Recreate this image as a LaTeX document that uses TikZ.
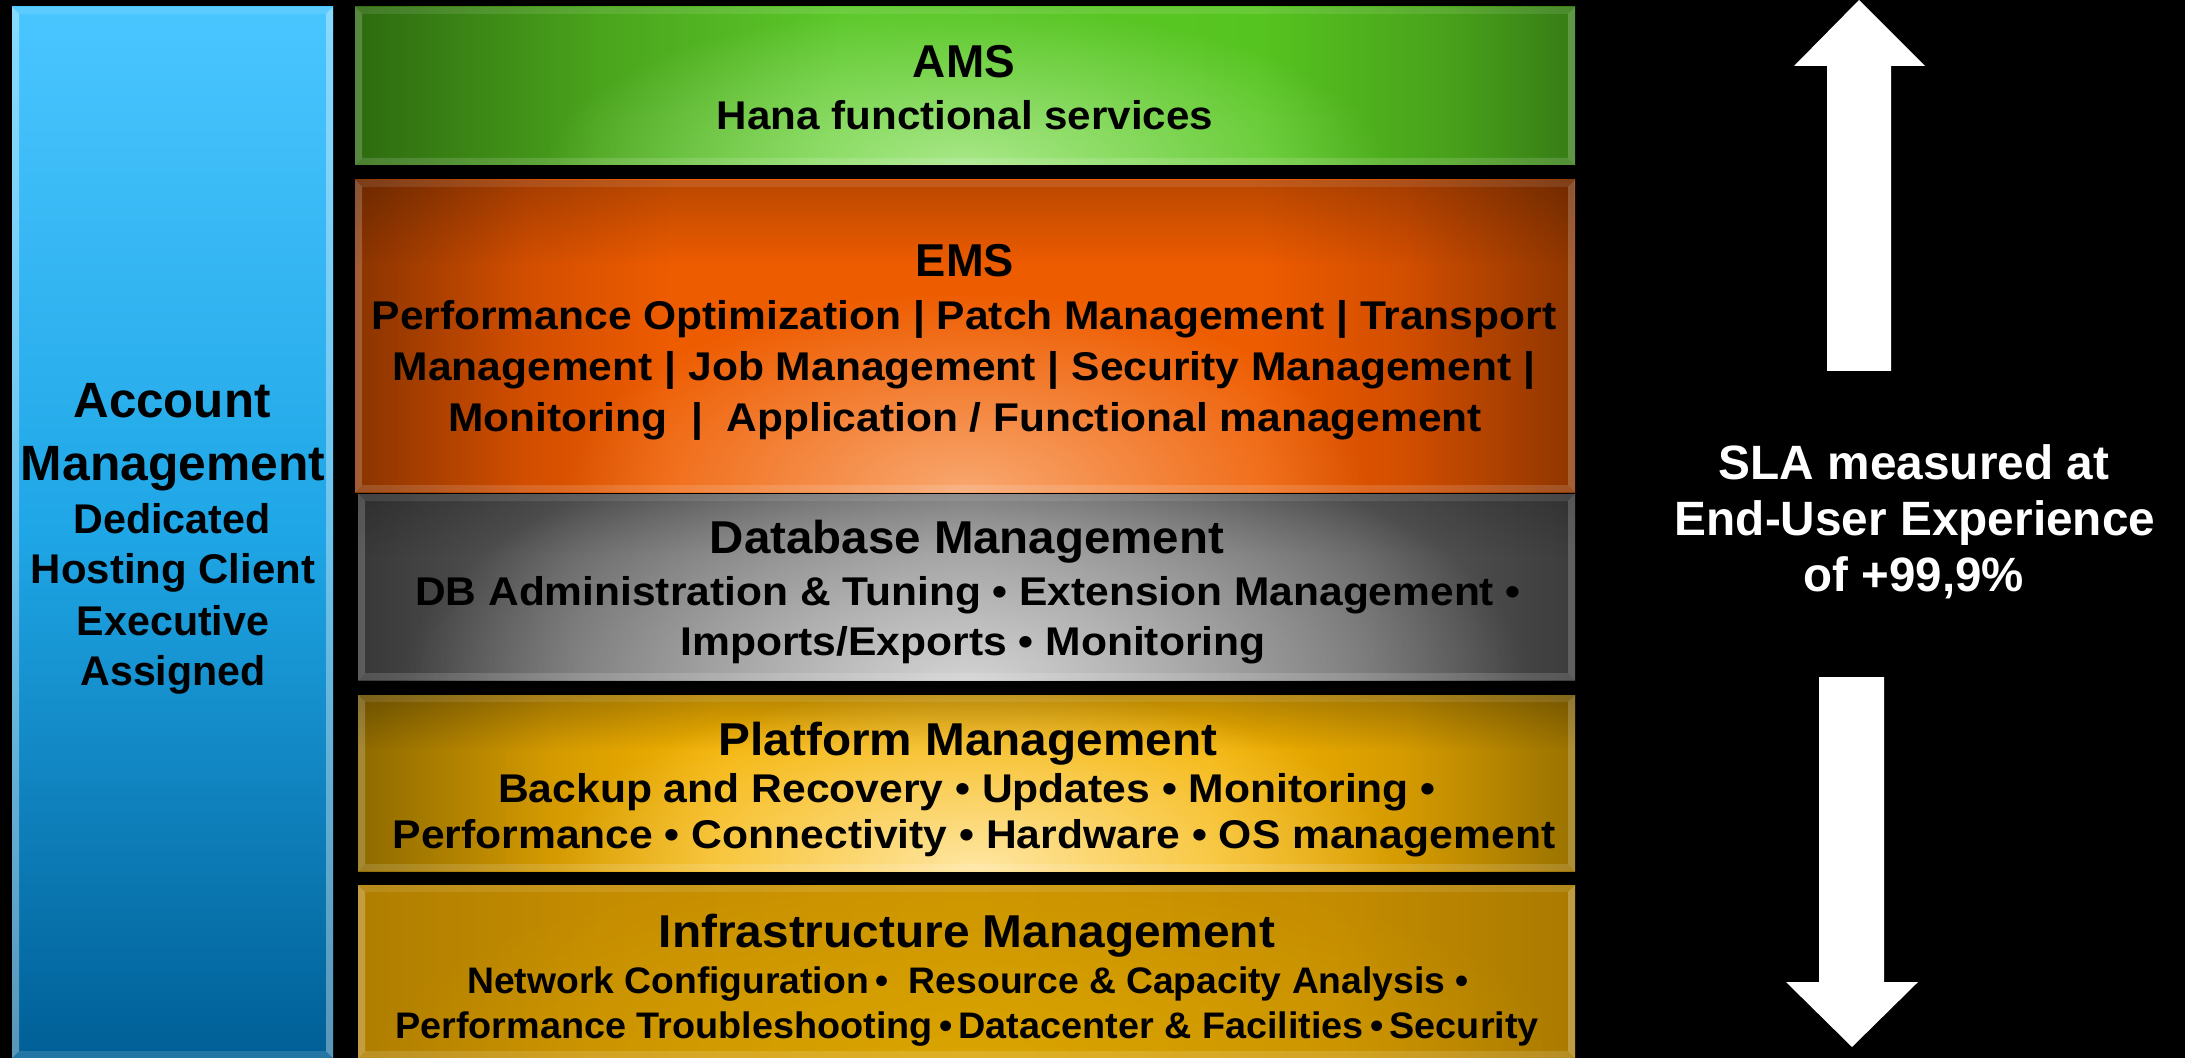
\documentclass[tikz,border=0pt]{standalone}
\usepackage{fontspec}
\setmainfont{Liberation Sans}
\usepackage{graphicx}
\usetikzlibrary{calc,fadings,fit}

\definecolor{gG}{HTML}{A8E888}
\definecolor{oG}{HTML}{F9A870}
\definecolor{yG}{HTML}{D2D2D2}
\definecolor{pG}{HTML}{FFE6A0}
\definecolor{iG}{HTML}{DAA400}
\definecolor{bT}{HTML}{4AC6FF}\definecolor{bM}{HTML}{1FA6E6}\definecolor{bB}{HTML}{005F96}

\pgfdeclarehorizontalshading{greenH}{100bp}{color(0bp)=(rgb,255:red,46;green,106;blue,16); color(25bp)=(rgb,255:red,46;green,106;blue,16); color(35bp)=(rgb,255:red,74;green,164;blue,28); color(45bp)=(rgb,255:red,92;green,200;blue,42); color(62bp)=(rgb,255:red,86;green,196;blue,32); color(70bp)=(rgb,255:red,72;green,160;blue,26); color(75bp)=(rgb,255:red,54;green,124;blue,22); color(100bp)=(rgb,255:red,54;green,124;blue,22)}
\pgfdeclarehorizontalshading{orangeH}{100bp}{color(0bp)=(rgb,255:red,138;green,52;blue,0); color(25bp)=(rgb,255:red,138;green,52;blue,0); color(32bp)=(rgb,255:red,210;green,78;blue,0); color(38bp)=(rgb,255:red,238;green,92;blue,0); color(62bp)=(rgb,255:red,238;green,92;blue,0); color(68bp)=(rgb,255:red,210;green,78;blue,0); color(75bp)=(rgb,255:red,142;green,54;blue,0); color(100bp)=(rgb,255:red,142;green,54;blue,0)}
\pgfdeclarehorizontalshading{grayH}{100bp}{color(0bp)=(rgb,255:red,56;green,56;blue,56); color(25bp)=(rgb,255:red,56;green,56;blue,56); color(34bp)=(rgb,255:red,92;green,92;blue,92); color(50bp)=(rgb,255:red,124;green,124;blue,124); color(66bp)=(rgb,255:red,92;green,92;blue,92); color(75bp)=(rgb,255:red,60;green,60;blue,60); color(100bp)=(rgb,255:red,60;green,60;blue,60)}
\pgfdeclarehorizontalshading{platH}{100bp}{color(0bp)=(rgb,255:red,142;green,106;blue,0); color(25bp)=(rgb,255:red,142;green,106;blue,0); color(33bp)=(rgb,255:red,212;green,154;blue,0); color(40bp)=(rgb,255:red,244;green,178;blue,0); color(60bp)=(rgb,255:red,244;green,178;blue,0); color(68bp)=(rgb,255:red,212;green,154;blue,0); color(75bp)=(rgb,255:red,154;green,114;blue,0); color(100bp)=(rgb,255:red,154;green,114;blue,0)}
\pgfdeclarehorizontalshading{infraH}{100bp}{color(0bp)=(rgb,255:red,176;green,126;blue,0); color(25bp)=(rgb,255:red,176;green,126;blue,0); color(35bp)=(rgb,255:red,196;green,140;blue,0); color(50bp)=(rgb,255:red,204;green,148;blue,0); color(65bp)=(rgb,255:red,196;green,140;blue,0); color(75bp)=(rgb,255:red,170;green,122;blue,0); color(100bp)=(rgb,255:red,170;green,122;blue,0)}

\tikzfading[name=glowfade, inner color=transparent!0, outer color=transparent!100]
\tikzfading[name=topfade, top color=transparent!0, bottom color=transparent!100]

\newlength\fitlen
\newcommand\fitw[2]{\settowidth\fitlen{#2}\pgfmathsetmacro\fitr{#1*0.284528/\fitlen}\scalebox{\fitr}[1]{#2}}
\newcommand\fs[1]{\fontsize{#1}{#1}\selectfont\bfseries}

\newcommand\layerbase[6]{%
  \node[fit={(#2,#3) (#4,#5)}, inner sep=0pt, outer sep=0pt] (#1) {};
  \shade[shading=#6] (#1.north west) rectangle (#1.south east);
}
\newcommand\bevel[2]{%
  \fill[white, opacity=#2] (#1.north west) -- ($(#1.north west)+(7,7)$) -- ($(#1.south west)+(7,-7)$) -- (#1.south west) -- cycle;
  \fill[white, opacity=#2] (#1.north east) -- ($(#1.north east)+(-7,7)$) -- ($(#1.south east)+(-7,-7)$) -- (#1.south east) -- cycle;
  \fill[white, opacity=0.10] (#1.north west) -- (#1.north east) -- ($(#1.north east)+(-7,7)$) -- ($(#1.north west)+(7,7)$) -- cycle;
  \fill[white, opacity=0.14] (#1.south west) -- (#1.south east) -- ($(#1.south east)+(-7,-7)$) -- ($(#1.south west)+(7,-7)$) -- cycle;
}

\tikzset{
  txt/.style={anchor=base, inner sep=0pt, outer sep=0pt, text=black},
  wtxt/.style={anchor=base, inner sep=0pt, outer sep=0pt, text=white},
  arrowshape/.style={fill=white, draw=none}
}

\begin{document}
\begin{tikzpicture}[x=0.01cm, y=-0.01cm]
\fill[black] (0,0) rectangle (2185,1058);
\useasboundingbox (0,0) rectangle (2185,1058);

% ---------- Account management bar ----------
\node[fit={(12,7) (333,1058)}, inner sep=0pt, outer sep=0pt] (acc) {};
\fill[top color=bT, bottom color=bB, middle color=bM] (acc.north west) rectangle (acc.south east);
\bevel{acc}{0.35}

% ---------- AMS ----------
\layerbase{ams}{355}{7}{1575}{165}{greenH}
\begin{scope}
  \clip (ams.north west) rectangle (ams.south east);
  \fill[gG, path fading=glowfade] (965,165) ellipse [x radius=4.2cm, y radius=1.6cm];
\end{scope}
\bevel{ams}{0.2}

% ---------- EMS ----------
\layerbase{ems}{355}{180}{1575}{492}{orangeH}
\begin{scope}
  \clip (ems.north west) rectangle (ems.south east);
  \fill[black, opacity=0.22, path fading=topfade] (ems.north west) rectangle (1575,265);
  \fill[oG, path fading=glowfade] (965,492) ellipse [x radius=4cm, y radius=2cm];
\end{scope}
\bevel{ems}{0.2}

% ---------- Database ----------
\layerbase{db}{358}{494}{1575}{680}{grayH}
\begin{scope}
  \clip (db.north west) rectangle (db.south east);
  \fill[black, opacity=0.18, path fading=topfade] (db.north west) rectangle (1575,555);
  \fill[yG, path fading=glowfade] (965,680) ellipse [x radius=5.6cm, y radius=2.5cm];
\end{scope}
\bevel{db}{0.18}

% ---------- Platform ----------
\layerbase{plat}{358}{695}{1575}{871}{platH}
\begin{scope}
  \clip (plat.north west) rectangle (plat.south east);
  \fill[black, opacity=0.25, path fading=topfade] (plat.north west) rectangle (1575,750);
  \fill[pG, path fading=glowfade] (975,865) ellipse [x radius=4.2cm, y radius=1.8cm];
\end{scope}
\bevel{plat}{0.2}

% ---------- Infrastructure ----------
\layerbase{infra}{358}{885}{1575}{1058}{infraH}
\begin{scope}
  \clip (infra.north west) rectangle (infra.south east);
  \fill[iG, path fading=glowfade] (968,1058) ellipse [x radius=6cm, y radius=2cm];
\end{scope}
\bevel{infra}{0.25}

% ---------- SLA arrows ----------
\fill[arrowshape] (1859,0) -- (1925,66) -- (1891,66) -- (1891,371) -- (1827,371) -- (1827,66) -- (1794,66) -- cycle;
\fill[arrowshape] (1819,677) -- (1884,677) -- (1884,982) -- (1918,982) -- (1852,1047) -- (1786,982) -- (1819,982) -- cycle;

% ---------- Texts ----------
\node[txt, font=\fs{14.1}] (acc1) at (172,418) {\fitw{197}{Account}};
\node[txt, font=\fs{14.1}] (acc2) at (173,480) {\fitw{304}{Management}};
\node[txt, font=\fs{11.8}] (acc3) at (172,533) {\fitw{197}{Dedicated}};
\node[txt, font=\fs{11.8}] (acc4) at (173,583) {\fitw{284}{Hosting Client}};
\node[txt, font=\fs{11.8}] (acc5) at (173,635) {\fitw{192}{Executive}};
\node[txt, font=\fs{11.8}] (acc6) at (173,685) {\fitw{185}{Assigned}};

\node[txt, font=\fs{13.1}] (amsT) at (964,78) {\fitw{102}{AMS}};
\node[txt, font=\fs{11.4}] (amsS) at (965,130) {\fitw{496}{Hana functional services}};

\node[txt, font=\fs{13.1}] (emsT) at (965,277) {\fitw{98}{EMS}};
\node[txt, font=\fs{11.4}] (ems1) at (964,330) {\fitw{1184}{Performance Optimization | Patch Management | Transport}};
\node[txt, font=\fs{11.4}] (ems2) at (964,381) {\fitw{1142}{Management | Job Management | Security Management |}};
\node[txt, font=\fs{11.4}] (ems3) at (965,432) {\fitw{1033}{Monitoring\ \ |\ \ Application / Functional management}};

\node[txt, font=\fs{13.1}] (dbT) at (967,553) {\fitw{514}{Database Management}};
\node[txt, font=\fs{11.4}] (db1) at (968,605) {\fitw{1105}{DB Administration \& Tuning • Extension Management •}};
\node[txt, font=\fs{11.4}] (db2) at (973,655) {\fitw{585}{Imports/Exports • Monitoring}};

\node[txt, font=\fs{13.1}] (plT) at (968,755) {\fitw{498}{Platform Management}};
\node[txt, font=\fs{11.4}] (pl1) at (967,802) {\fitw{937}{Backup and Recovery • Updates • Monitoring •}};
\node[txt, font=\fs{11.4}] (pl2) at (974,848) {\fitw{1162}{Performance • Connectivity • Hardware • OS management}};

\node[txt, font=\fs{13.1}] (inT) at (967,947) {\fitw{616}{Infrastructure Management}};
\node[txt, font=\fs{10.5}] (in1) at (968,993) {\fitw{1001}{Network Configuration\,•\ \ Resource \& Capacity Analysis •}};
\node[txt, font=\fs{10.5}] (in2) at (967,1038) {\fitw{1143}{Performance Troubleshooting\,•\,Datacenter \& Facilities\,•\,Security}};

\node[wtxt, font=\fs{13.7}] (sla1) at (1914,479) {\fitw{390}{SLA measured at}};
\node[wtxt, font=\fs{13.7}] (sla2) at (1915,535) {\fitw{480}{End-User Experience}};
\node[wtxt, font=\fs{13.7}] (sla3) at (1914,591) {\fitw{220}{of +99,9\%}};
\end{tikzpicture}
\end{document}
